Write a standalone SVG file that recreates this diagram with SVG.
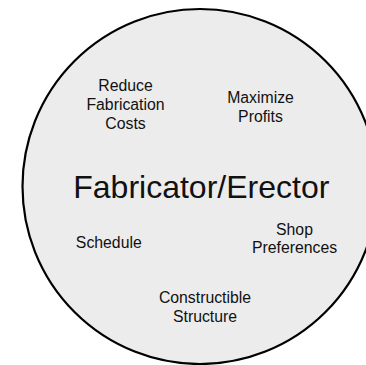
<svg xmlns="http://www.w3.org/2000/svg" width="366" height="365" viewBox="0 0 366 365">
<style>
.lbl{font-family:"Liberation Sans",Arial,sans-serif;font-size:15.8px;fill:#111;text-anchor:middle}
.title{font-family:"Liberation Sans",Arial,sans-serif;font-size:32px;fill:#111;text-anchor:middle}
</style>
<rect width="366" height="365" fill="#ffffff"/>
<g id="circle">
<circle cx="200" cy="186.5" r="177.5" fill="#ececec" stroke="#000" stroke-width="2.2"/>
<text class="title" x="201.3" y="197.5">Fabricator/Erector</text>
</g>
<g id="reduce-costs">
<text class="lbl" x="125.5" y="91">Reduce</text>
<text class="lbl" x="125.5" y="110">Fabrication</text>
<text class="lbl" x="125.5" y="128.5">Costs</text>
</g>
<g id="maximize-profits">
<text class="lbl" x="260.5" y="103.3">Maximize</text>
<text class="lbl" x="260.5" y="121.7">Profits</text>
</g>
<g id="schedule">
<text class="lbl" x="108.8" y="248.3">Schedule</text>
</g>
<g id="shop-preferences">
<text class="lbl" x="294.5" y="235">Shop</text>
<text class="lbl" x="294.5" y="253.3">Preferences</text>
</g>
<g id="constructible-structure">
<text class="lbl" x="205" y="302.7">Constructible</text>
<text class="lbl" x="205" y="321.7">Structure</text>
</g>
<g id="connectors"/>
</svg>
